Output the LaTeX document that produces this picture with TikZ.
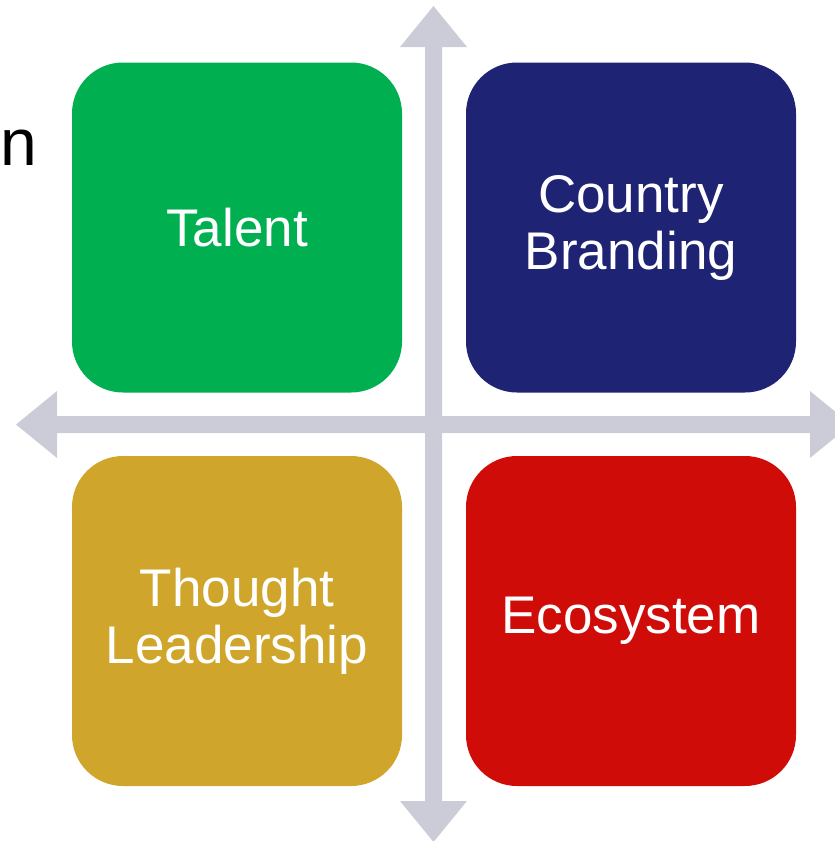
\documentclass[tikz,border=0pt]{standalone}
\usepackage{fontspec}
\setmainfont{Liberation Sans}
\usepackage{tikz}

\definecolor{axisgray}{RGB}{204,204,216}
\definecolor{talentgreen}{RGB}{0,176,80}
\definecolor{brandnavy}{RGB}{30,35,116}
\definecolor{leadgold}{RGB}{207,166,43}
\definecolor{ecored}{RGB}{208,12,8}

\begin{document}
\begin{tikzpicture}[x=1pt,y=1pt,yscale=-1,xscale=1,
  quadbox/.style={draw=none, rounded corners=51pt, minimum width=330pt, minimum height=330pt, inner sep=0pt, align=center, text=white, font=\fontsize{53}{57}\selectfont}]
\useasboundingbox (0,0) rectangle (835,841);
\clip (0,0) rectangle (835,841);

%Shape: Up Down Arrow
\fill [axisgray] (433.5,6) -- (467,47) -- (442,47) -- (442,801) -- (467,801) -- (433.5,842) -- (400,801) -- (425,801) -- (425,47) -- (400,47) -- cycle ;
%Shape: Left Right Arrow
\fill [axisgray] (16,424.5) -- (57,391) -- (57,416) -- (810,416) -- (810,391) -- (851,424.5) -- (810,458) -- (810,433) -- (57,433) -- (57,458) -- cycle ;

%Rounded Rect
\node [quadbox, fill=talentgreen] (talent) at (237,227.5) {Talent};
%Rounded Rect
\node [quadbox, fill=brandnavy] (branding) at (631,227.5) {Country\\Branding};
%Rounded Rect
\node [quadbox, fill=leadgold] (leadership) at (237,621) {Thought\\Leadership};
%Rounded Rect
\node [quadbox, fill=ecored] (ecosystem) at (631,621) {Ecosystem};

% Text Node
\node [anchor=base west, inner sep=0pt, font=\fontsize{66}{66}\selectfont] (cut) at (0,165) {n};

\end{tikzpicture}
\end{document}
